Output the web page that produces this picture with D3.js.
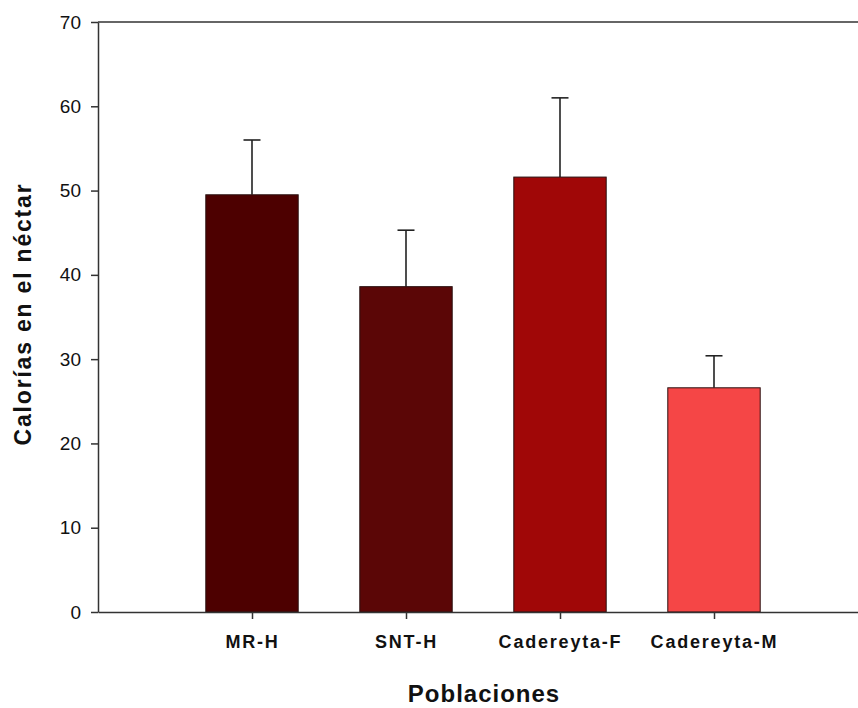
<!DOCTYPE html>
<html>
<head>
<meta charset="utf-8">
<script src="https://cdn.jsdelivr.net/npm/d3@7"></script>
<style>
  html, body { margin: 0; padding: 0; background: #fff; }
  svg { display: block; }
  text { font-family: "Liberation Sans", Arial, sans-serif; fill: #111; }
</style>
</head>
<body>
<svg id="chart" width="858" height="708"></svg>
<script>
// Populations and nectar calories (mean with upper error)
const categories = ["MR-H", "SNT-H", "Cadereyta-F", "Cadereyta-M"];
const means = [49.5, 38.6, 51.6, 26.6];
const upperErrors = [56.0, 45.3, 61.0, 30.4];
const barColors = ["#4d0000", "#5b0606", "#a00707", "#f54646"];
const yTicks = [0, 10, 20, 30, 40, 50, 60, 70];

const svg = d3.select("#chart");

const plotLeft = 98, plotRight = 868, plotTop = 22, plotBottom = 612;

// x positions: categories sit at 1..4 on a 0..5 frame
const x = d3.scaleLinear().domain([0, 5]).range([plotLeft, plotRight]);
const y = d3.scaleLinear().domain([0, 70]).range([plotBottom, plotTop]);
const barW = (x(1) - x(0)) * 0.6;

// frame top edge
svg.append("line")
  .attr("x1", plotLeft).attr("x2", plotRight)
  .attr("y1", y(70)).attr("y2", y(70))
  .attr("stroke", "#333").attr("stroke-width", 1.5);

// error bars (upper only)
const err = svg.append("g").attr("stroke", "#222").attr("stroke-width", 1.6);
categories.forEach((c, i) => {
  const cx = x(i + 1);
  err.append("line")
    .attr("x1", cx).attr("x2", cx)
    .attr("y1", y(means[i])).attr("y2", y(upperErrors[i]));
  err.append("line")
    .attr("x1", cx - 8.5).attr("x2", cx + 8.5)
    .attr("y1", y(upperErrors[i])).attr("y2", y(upperErrors[i]));
});

// bars
svg.append("g").selectAll("rect")
  .data(categories)
  .join("rect")
  .attr("x", (d, i) => x(i + 1) - barW / 2)
  .attr("width", barW)
  .attr("y", (d, i) => y(means[i]))
  .attr("height", (d, i) => y(0) - y(means[i]))
  .attr("fill", (d, i) => barColors[i])
  .attr("stroke", "#2a1010")
  .attr("stroke-width", 1);

// y axis
const yAxis = svg.append("g")
  .attr("transform", `translate(${plotLeft},0)`)
  .call(d3.axisLeft(y).tickValues(yTicks).tickFormat(d3.format("d")).tickSize(7).tickSizeOuter(0).tickPadding(10));
yAxis.select(".domain").attr("stroke", "#333").attr("stroke-width", 1.5);
yAxis.selectAll(".tick line").attr("stroke", "#333").attr("stroke-width", 1.5);
yAxis.selectAll(".tick text")
  .attr("font-size", 19)
  .attr("font-family", "Liberation Sans, Arial, sans-serif")
  .attr("fill", "#111");

// x axis
const xAxis = svg.append("g")
  .attr("transform", `translate(0,${plotBottom})`)
  .call(d3.axisBottom(x).tickValues([1, 2, 3, 4])
    .tickFormat(d => categories[d - 1]).tickSize(7).tickSizeOuter(0).tickPadding(16));
xAxis.select(".domain").attr("stroke", "#333").attr("stroke-width", 1.5);
xAxis.selectAll(".tick line").attr("stroke", "#333").attr("stroke-width", 1.5);
xAxis.selectAll(".tick text")
  .attr("font-size", 18)
  .attr("font-weight", "bold")
  .attr("letter-spacing", "1.8px")
  .attr("font-family", "Liberation Sans, Arial, sans-serif")
  .attr("fill", "#111");

// axis titles
svg.append("text")
  .attr("x", 484)
  .attr("y", 702)
  .attr("text-anchor", "middle")
  .attr("font-size", 24)
  .attr("font-weight", "bold")
  .attr("letter-spacing", "1px")
  .text("Poblaciones");

svg.append("text")
  .attr("transform", "translate(31,314) rotate(-90)")
  .attr("text-anchor", "middle")
  .attr("font-size", 23)
  .attr("font-weight", "bold")
  .attr("letter-spacing", "1.8px")
  .text("Calorías en el néctar");
</script>
</body>
</html>
